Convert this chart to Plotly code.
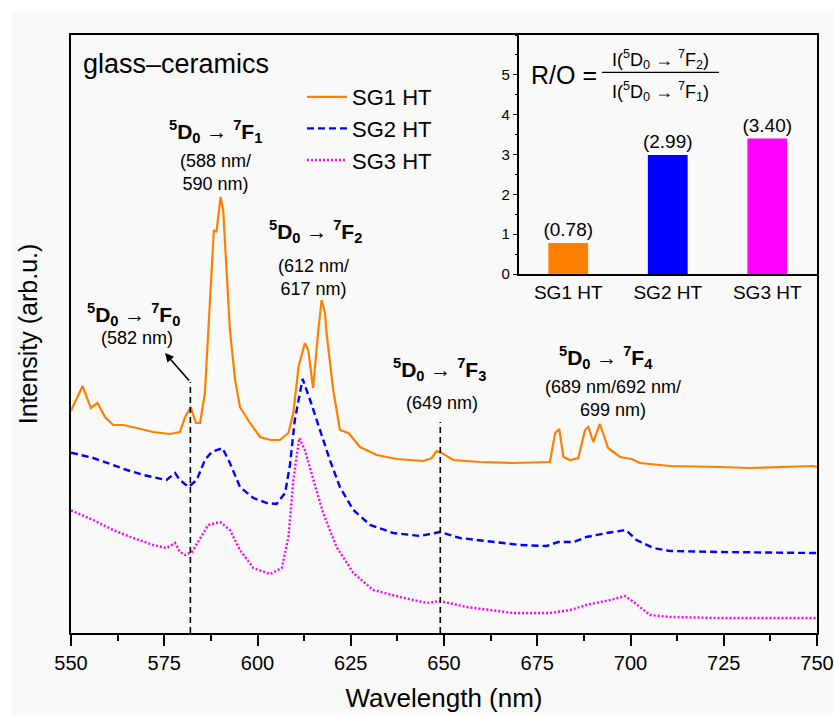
import plotly.graph_objects as go

# ---------------- data ----------------
wl_sg1 = [550.0, 550.2, 553.1, 555.3, 557.1, 559.1, 561.3, 564.0, 567.6, 572.0, 576.5, 579.2,
          580.6, 582.1, 583.5, 584.6, 585.9, 587.1, 588.0, 588.3, 589.0, 590.1, 590.8, 591.7,
          592.6, 594.0, 595.3, 598.0, 600.7, 603.4, 606.0, 608.3, 609.6, 611.0, 612.7, 613.6,
          614.9, 616.3, 617.2, 618.1, 618.5, 620.3, 622.1, 624.4, 627.5, 632.0, 637.3, 644.5,
          646.7, 648.0, 649.4, 652.5, 659.6, 668.6, 678.4, 679.8, 680.9, 682.0, 683.8, 686.0,
          687.8, 688.7, 690.0, 691.8, 694.0, 697.2, 700.3, 702.5, 710.6, 724.0, 732.0, 749.0, 750.0]
int_sg1 = [222, 224, 247, 225, 230, 216, 208, 208, 205, 201, 199, 201,
           216, 226, 210, 210, 240, 320, 376, 403, 401, 436, 423, 360,
           303, 253, 226, 210, 196, 193, 193, 200, 220, 266, 290, 283,
           245, 303, 333, 320, 300, 243, 203, 200, 186, 178, 174, 172,
           175, 182, 180, 173, 171, 170, 171, 200, 204, 176, 173, 175,
           203, 206, 191, 209, 185, 176, 174, 170, 167, 166, 165, 167, 166]

wl_sg2 = [550.0, 550.4, 556.0, 561.3, 565.0, 569.4, 575.6, 577.9, 579.2, 581.5, 583.7, 585.9,
          587.7, 590.6, 592.6, 595.3, 598.9, 602.5, 605.1, 607.4, 608.7, 610.0, 612.1, 614.1,
          616.8, 619.4, 622.1, 625.7, 630.2, 636.4, 643.6, 648.9, 654.3, 663.2, 670.4, 677.5,
          680.6, 684.7, 688.2, 693.6, 698.8, 701.6, 706.1, 710.6, 724.0, 749.0, 750.0]
int_sg2 = [180, 180, 175, 168, 163, 158, 153, 160, 153, 146, 153, 173,
           181, 185, 170, 146, 135, 130, 129, 140, 168, 213, 254, 233,
           203, 173, 146, 123, 108, 100, 97, 101, 95, 91, 88, 87,
           91, 91, 96, 100, 103, 93, 85, 82, 81, 80, 80]

wl_sg3 = [550.0, 550.4, 556.0, 561.3, 566.7, 572.0, 575.6, 577.9, 579.2, 580.6, 582.4, 584.6,
          586.8, 590.0, 592.6, 595.3, 598.9, 603.4, 606.5, 608.3, 609.6, 611.2, 612.7, 615.0,
          617.6, 621.2, 625.7, 631.0, 638.2, 645.4, 648.9, 656.1, 668.6, 678.4, 683.8, 688.2,
          694.5, 698.5, 701.2, 705.2, 710.6, 724.0, 749.0, 750.0]
int_sg3 = [122, 122, 113, 103, 95, 88, 85, 90, 81, 78, 81, 95,
           108, 111, 103, 83, 65, 59, 65, 96, 153, 195, 183, 153,
           120, 86, 60, 43, 36, 30, 32, 26, 20, 20, 23, 28,
           33, 37, 30, 18, 16, 15, 15, 15]

series_names = ["SG1 HT", "SG2 HT", "SG3 HT"]
series_colors = ["#FF8000", "#0000FF", "#FF00FF"]

ratio_categories = ["SG1 HT", "SG2 HT", "SG3 HT"]
ratio_values = [0.78, 2.99, 3.40]

marker_wl = [582, 649]          # transition marker lines (nm)
marker_top = [251, 211]         # their top (intensity units)

x_tick_vals = [550, 575, 600, 625, 650, 675, 700, 725, 750]
inset_tick_vals = [0, 1, 2, 3, 4, 5]

FONT = "Liberation Sans, Arial, sans-serif"

# ---------------- figure ----------------
fig = go.Figure()

fig.add_trace(go.Scatter(x=wl_sg1, y=int_sg1, mode="lines", name=series_names[0],
                         line=dict(color=series_colors[0], width=2.2)))
fig.add_trace(go.Scatter(x=wl_sg2, y=int_sg2, mode="lines", name=series_names[1],
                         line=dict(color=series_colors[1], width=2.4, dash="7px,4px")))
fig.add_trace(go.Scatter(x=wl_sg3, y=int_sg3, mode="lines", name=series_names[2],
                         line=dict(color=series_colors[2], width=2.4, dash="2px,2px")))

for wl, top in zip(marker_wl, marker_top):
    fig.add_trace(go.Scatter(x=[wl, wl], y=[0, top], mode="lines", showlegend=False,
                             hoverinfo="skip",
                             line=dict(color="black", width=1.6, dash="6px,4px")))

# inset bar chart
fig.add_trace(go.Bar(x=ratio_categories, y=ratio_values, xaxis="x2", yaxis="y2",
                     marker=dict(color=series_colors, line=dict(width=0)),
                     text=[f"({v:.2f})" for v in ratio_values], textposition="outside",
                     textfont=dict(size=19, color="black", family=FONT),
                     constraintext="none",
                     cliponaxis=False, showlegend=False, width=0.4))

annotations = []
def lab(x, y, text, size=19, xanchor="center"):
    annotations.append(dict(x=x, y=y, xref="x", yref="y", text=text, showarrow=False,
                            xanchor=xanchor, yanchor="middle",
                            font=dict(size=size, color="black", family=FONT)))

def trans(f):
    return f"<b><sup>5</sup>D<sub>0</sub> → <sup>7</sup>F<sub>{f}</sub></b>"

lab(588.8, 502, trans(1), 21)
lab(588.8, 461, "(588 nm/<br>590 nm)", 18)
lab(615.5, 402, trans(2), 21)
lab(615.1, 356, "(612 nm/<br>617 nm)", 18)
lab(566.7, 319, trans(0), 21)
lab(567.6, 295, "(582 nm)", 18)
lab(648.9, 264, trans(3), 21)
lab(649.4, 230, "(649 nm)", 18)
lab(693.4, 276, trans(4), 21)
lab(695.3, 235, "(689 nm/692 nm/<br>699 nm)", 18)

annotations.append(dict(x=(81 - 71) / 746, y=569, xref="paper", yref="y", text="glass–ceramics",
                        showarrow=False, xanchor="left", yanchor="middle",
                        font=dict(size=27, color="black", family=FONT)))

# arrow pointing to 7F0 label
annotations.append(dict(x=575.2, y=280, ax=582, ay=251, xref="x", yref="y", axref="x", ayref="y",
                        text="", showarrow=True, arrowhead=2, arrowsize=1.1, arrowwidth=1.6,
                        arrowcolor="black"))

# R/O formula in inset
def px(xp):
    return (xp - 71) / 746
def py(yp):
    return (633 - yp) / 598

annotations.append(dict(x=px(529), y=py(74.6), xref="paper", yref="paper", text="R/O =",
                        showarrow=False, xanchor="left", yanchor="middle",
                        font=dict(size=25, color="black", family=FONT)))
annotations.append(dict(x=px(660.5), y=py(59.5), xref="paper", yref="paper",
                        text="I(<sup>5</sup>D<sub>0</sub> → <sup>7</sup>F<sub>2</sub>)",
                        showarrow=False, xanchor="center", yanchor="middle",
                        font=dict(size=18, color="black", family=FONT)))
annotations.append(dict(x=px(660.5), y=py(91.3), xref="paper", yref="paper",
                        text="I(<sup>5</sup>D<sub>0</sub> → <sup>7</sup>F<sub>1</sub>)",
                        showarrow=False, xanchor="center", yanchor="middle",
                        font=dict(size=18, color="black", family=FONT)))

shapes = [
    dict(type="line", xref="paper", yref="paper", x0=px(602), x1=px(719), y0=py(72.3), y1=py(72.3),
         line=dict(color="black", width=1.3)),
    # white strips at top and left of the image
    dict(type="rect", xref="paper", yref="paper", x0=px(-5), x1=px(12), y0=py(720), y1=py(-5),
         fillcolor="white", line=dict(width=0), layer="above"),
    dict(type="rect", xref="paper", yref="paper", x0=px(-5), x1=px(840), y0=py(11), y1=py(-5),
         fillcolor="white", line=dict(width=0), layer="above"),
]

fig.update_layout(
    width=834, height=715,
    margin=dict(l=71, r=17, t=35, b=82),
    paper_bgcolor="#f9f9f9", plot_bgcolor="#f9f9f9",
    font=dict(family=FONT, color="black"),
    showlegend=True,
    legend=dict(x=px(302), y=py(76), xanchor="left", yanchor="top",
                font=dict(size=22, family=FONT, color="black"),
                bgcolor="rgba(0,0,0,0)", itemwidth=40, tracegroupgap=0),
    xaxis=dict(range=[550, 750], tickvals=x_tick_vals, ticks="outside", ticklen=11, tickwidth=2,
               tickcolor="black", showline=True, linecolor="black", linewidth=2, mirror=True,
               showgrid=False, zeroline=False, tickfont=dict(size=20, family=FONT),
               automargin=False,
               minor=dict(dtick=12.5, ticks="outside", ticklen=6, tickwidth=2, tickcolor="black",
                          showgrid=False, tick0=550),
               title=dict(text="Wavelength (nm)", font=dict(size=26, family=FONT), standoff=16)),
    yaxis=dict(range=[0, 598], showticklabels=False, ticks="", showline=True, linecolor="black",
               linewidth=2, mirror=True, showgrid=False, zeroline=False, automargin=False,
               title=dict(text="Intensity (arb.u.)", font=dict(size=25, family=FONT), standoff=24)),
    xaxis2=dict(domain=[px(518.5), 1.0], anchor="y2", showline=True, linecolor="black",
                linewidth=1.5, mirror=True, ticks="", showgrid=False, zeroline=False,
                automargin=False,
                tickfont=dict(size=19, family=FONT), range=[-0.5, 2.5]),
    yaxis2=dict(domain=[py(274), 1.0], anchor="x2", range=[0, 6], tickvals=inset_tick_vals,
                ticks="outside", ticklen=4, tickwidth=1.3, tickcolor="black", showline=True,
                linecolor="black", linewidth=1.5, mirror=True, showgrid=False, zeroline=False,
                automargin=False,
                tickfont=dict(size=15, family=FONT),
                minor=dict(dtick=0.5, ticks="outside", ticklen=2, tickcolor="black", showgrid=False)),
    annotations=annotations,
    shapes=shapes,
)

fig.write_html("out.html", config={"responsive": False, "displayModeBar": False},
               post_script="document.body.style.margin='0px';document.body.style.padding='0px';"
                           "document.body.style.overflow='hidden';")
